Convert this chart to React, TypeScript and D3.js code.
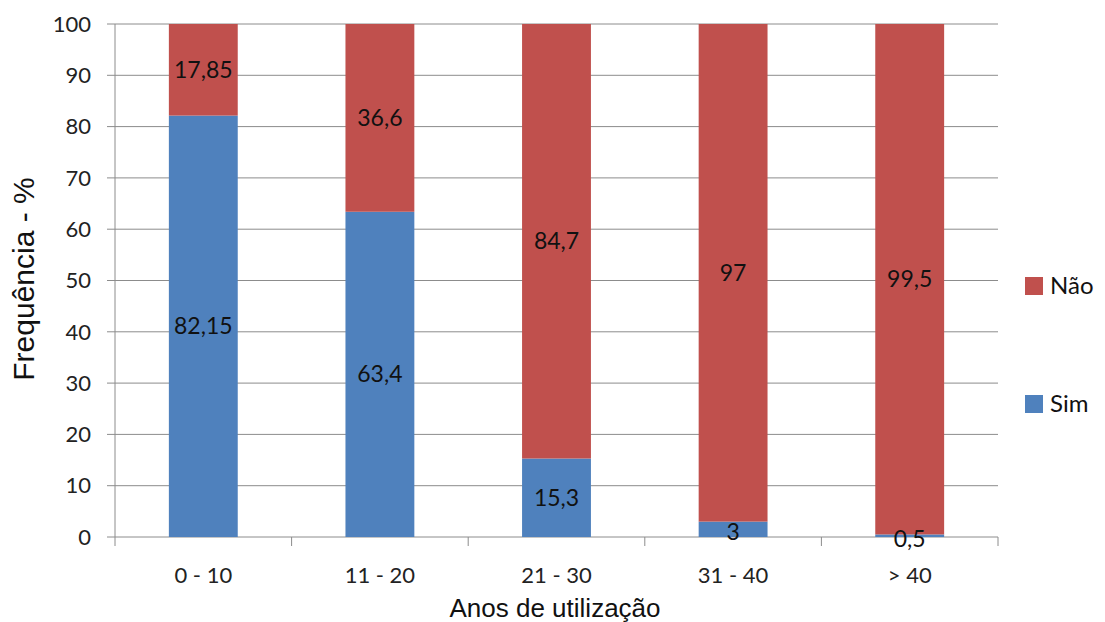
import React from "react";
import * as d3 from "d3";

const categories = ["0 - 10", "11 - 20", "21 - 30", "31 - 40", "> 40"];
const simValues = [82.15, 63.4, 15.3, 3, 0.5];
const naoValues = [17.85, 36.6, 84.7, 97, 99.5];
const simLabels = ["82,15", "63,4", "15,3", "3", "0,5"];
const naoLabels = ["17,85", "36,6", "84,7", "97", "99,5"];
const yTicks = [0, 10, 20, 30, 40, 50, 60, 70, 80, 90, 100];

const W = 1105;
const H = 622;
const left = 115;
const right = 998;
const top = 24;
const bottom = 537;
const font = "Lato, 'Open Sans', sans-serif";
const titleFont = "'Liberation Sans', Arial, sans-serif";
const BLUE = "#4F81BD";
const RED = "#C0504D";
const GRID = "#8c8c8c";

export default function App() {
  const x = d3.scaleBand<string>().domain(categories).range([left, right]).paddingInner(0.61).paddingOuter(0.305);
  const y = d3.scaleLinear().domain([0, 100]).range([bottom, top]);
  const step = (right - left) / categories.length;

  const rows = categories.map((c, i) => ({ c, sim: simValues[i], nao: naoValues[i], sl: simLabels[i], nl: naoLabels[i] }));

  return (
    <svg width={W} height={H} style={{ position: "absolute", left: 0, top: 0, background: "#fff" }}>
      {/* gridlines and y ticks */}
      {yTicks.map((t) => (
        <g key={t}>
          <line x1={left - 8} x2={right} y1={y(t)} y2={y(t)} stroke={GRID} strokeWidth={1} />
          <text x={91} y={y(t)} dy="0.35em" textAnchor="end" fontFamily={font} fontSize={22} fill="#222">
            {t}
          </text>
        </g>
      ))}
      {/* y axis */}
      <line x1={left} x2={left} y1={top} y2={bottom} stroke={GRID} strokeWidth={1} />
      {/* x category ticks */}
      {d3.range(categories.length + 1).map((i) => (
        <line key={i} x1={left + i * step} x2={left + i * step} y1={bottom} y2={bottom + 9} stroke={GRID} strokeWidth={1} />
      ))}
      {/* stacked bars */}
      {rows.map((r) => {
        const x0 = x(r.c)!;
        const bw = x.bandwidth();
        const cx = x0 + bw / 2;
        return (
          <g key={r.c}>
            <rect x={x0} width={bw} y={y(r.sim)} height={y(0) - y(r.sim)} fill={BLUE} />
            <rect x={x0} width={bw} y={y(r.sim + r.nao)} height={y(r.sim) - y(r.sim + r.nao)} fill={RED} />
            <text x={cx} y={y(r.sim + r.nao / 2)} dy="0.35em" textAnchor="middle" fontFamily={font} fontSize={23} fill="#111">
              {r.nl}
            </text>
            <text x={cx} y={y(r.sim / 2) + (r.sim < 5 ? 3 : 0)} dy="0.35em" textAnchor="middle" fontFamily={font} fontSize={23} fill="#111">
              {r.sl}
            </text>
            <text x={cx} y={575} dy="0.35em" textAnchor="middle" fontFamily={font} fontSize={22} fill="#222">
              {r.c}
            </text>
          </g>
        );
      })}
      {/* axis titles */}
      <text x={555} y={617} textAnchor="middle" fontFamily={titleFont} fontSize={26} fill="#111">
        Anos de utilização
      </text>
      <text transform={`translate(34, 279) rotate(-90)`} textAnchor="middle" fontFamily={titleFont} fontSize={30} fill="#111">
        Frequência - %
      </text>
      {/* legend */}
      <rect x={1025} y={277} width={18} height={18} fill={RED} />
      <text x={1050} y={286} dy="0.35em" fontFamily={font} fontSize={24} fill="#111">Não</text>
      <rect x={1025} y={395} width={18} height={18} fill={BLUE} />
      <text x={1050} y={404} dy="0.35em" fontFamily={font} fontSize={24} fill="#111">Sim</text>
    </svg>
  );
}
